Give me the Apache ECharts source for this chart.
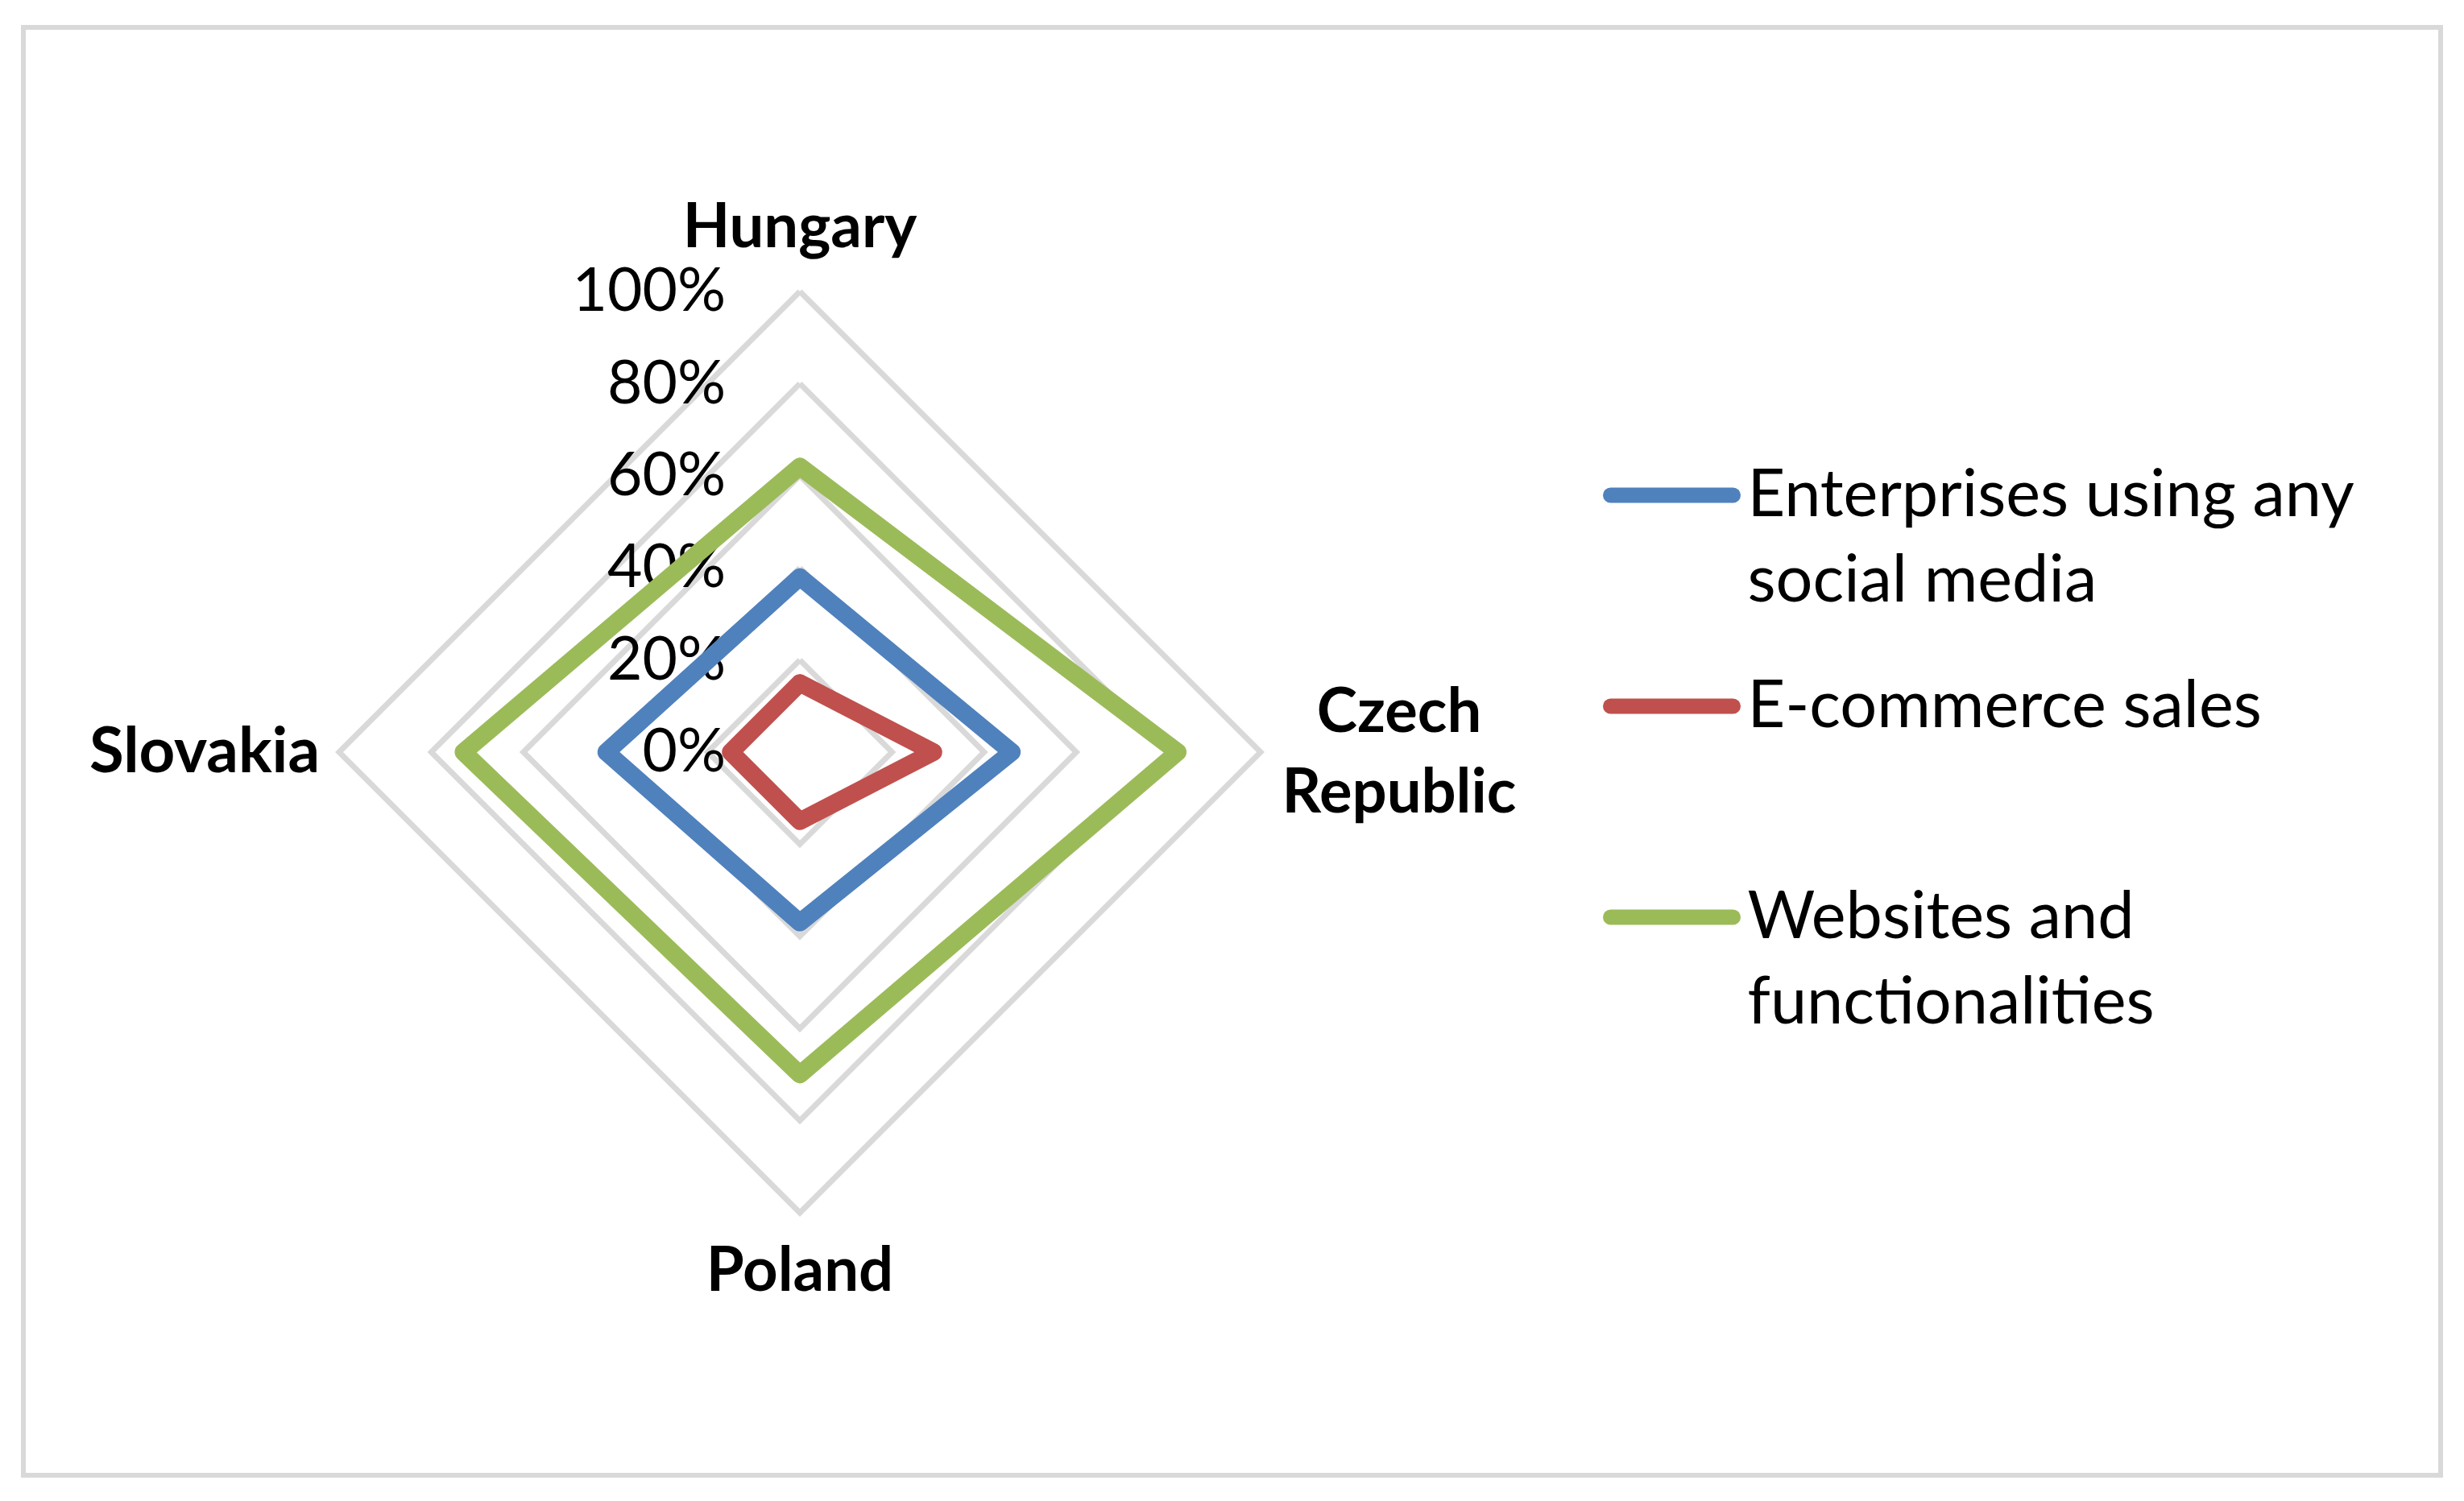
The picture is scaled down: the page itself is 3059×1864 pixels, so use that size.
<!DOCTYPE html>
<html>
<head>
<meta charset="utf-8">
<script src="https://cdn.jsdelivr.net/npm/echarts@6/dist/echarts.min.js"></script>
<style>
html,body{margin:0;padding:0;background:#fff;}
#chart{width:3059px;height:1864px;}
</style>
</head>
<body>
<div id="chart"></div>
<script>
// Indicators in drawing order (ECharts goes counter-clockwise from the top):
// top, left, bottom, right
const categories = ['Hungary', 'Slovakia', 'Poland', 'Czech\nRepublic'];
const tickLabels = ['0%', '20%', '40%', '60%', '80%', '100%'];
const seriesNames = ['Enterprises using any\nsocial media', 'E-commerce sales', 'Websites and\nfunctionalities'];
const socialMedia = [38, 42, 37, 46];
const eCommerce = [15, 15, 15, 29];
const websites = [62, 73, 70, 82];
const colors = ['#4f81bd', '#c0504d', '#9bbb59'];

const FONT = 'Lato';
const chart = echarts.init(document.getElementById('chart'));

const indicator = categories.map((name, i) => {
  const ind = { name: name, min: 0, max: 100, nameMoveOverlap: false };
  if (i !== 0) ind.axisLabel = { show: false };
  if (i === 0) ind.nameGap = 30;
  if (i === 1) { ind.nameGap = 24; ind.nameTextStyle = { fontSize: 78 }; }
  if (i === 2) ind.nameGap = 22;
  if (i === 3) { ind.nameGap = 172; ind.nameTextStyle = { align: 'center' }; }
  return ind;
});

const legendLabel = {};
seriesNames.forEach(n => {
  legendLabel[n] = n.indexOf('\n') >= 0 ? '\n' + n : n;
});

const LW = 22;
const lineFor = c => ({ color: c, width: LW, join: 'round', cap: 'round' });

const option = {
  backgroundColor: '#ffffff',
  animation: false,
  graphic: [{
    type: 'rect',
    shape: { x: 29, y: 34, width: 3001, height: 1798 },
    style: { fill: 'none', stroke: '#d9d9d9', lineWidth: 6 },
    silent: true, z: -10
  }],
  legend: {
    orient: 'vertical',
    left: 1985,
    top: 451,
    itemWidth: 178,
    itemHeight: 19,
    itemGap: 50,
    icon: 'path://M10,0 L170,0 A10,10 0 0 1 170,20 L10,20 A10,10 0 0 1 10,0 Z',
    formatter: n => legendLabel[n],
    textStyle: { fontFamily: FONT, fontSize: 81, color: '#000', lineHeight: 106 },
    data: seriesNames
  },
  radar: {
    center: [993, 934],
    radius: 572,
    startAngle: 90,
    shape: 'polygon',
    splitNumber: 5,
    indicator: indicator,
    axisName: { color: '#000', fontFamily: FONT, fontWeight: 'bold', fontSize: 76, lineHeight: 100 },
    axisLine: { show: false },
    axisTick: { show: false },
    splitArea: { show: false },
    splitLine: { lineStyle: { color: '#d9d9d9', width: 7 } },
    axisLabel: {
      show: true,
      margin: 92,
      color: '#000',
      fontFamily: FONT,
      fontSize: 75,
      formatter: v => tickLabels[Math.round(v / 20)]
    }
  },
  series: [{
    type: 'radar',
    symbol: 'none',
    lineStyle: { width: LW, join: 'round', cap: 'round' },
    data: [
      { name: seriesNames[0], value: socialMedia, lineStyle: lineFor(colors[0]), itemStyle: { color: colors[0] } },
      { name: seriesNames[1], value: eCommerce, lineStyle: lineFor(colors[1]), itemStyle: { color: colors[1] } },
      { name: seriesNames[2], value: websites, lineStyle: lineFor(colors[2]), itemStyle: { color: colors[2] } }
    ]
  }]
};
chart.setOption(option);
</script>
</body>
</html>
